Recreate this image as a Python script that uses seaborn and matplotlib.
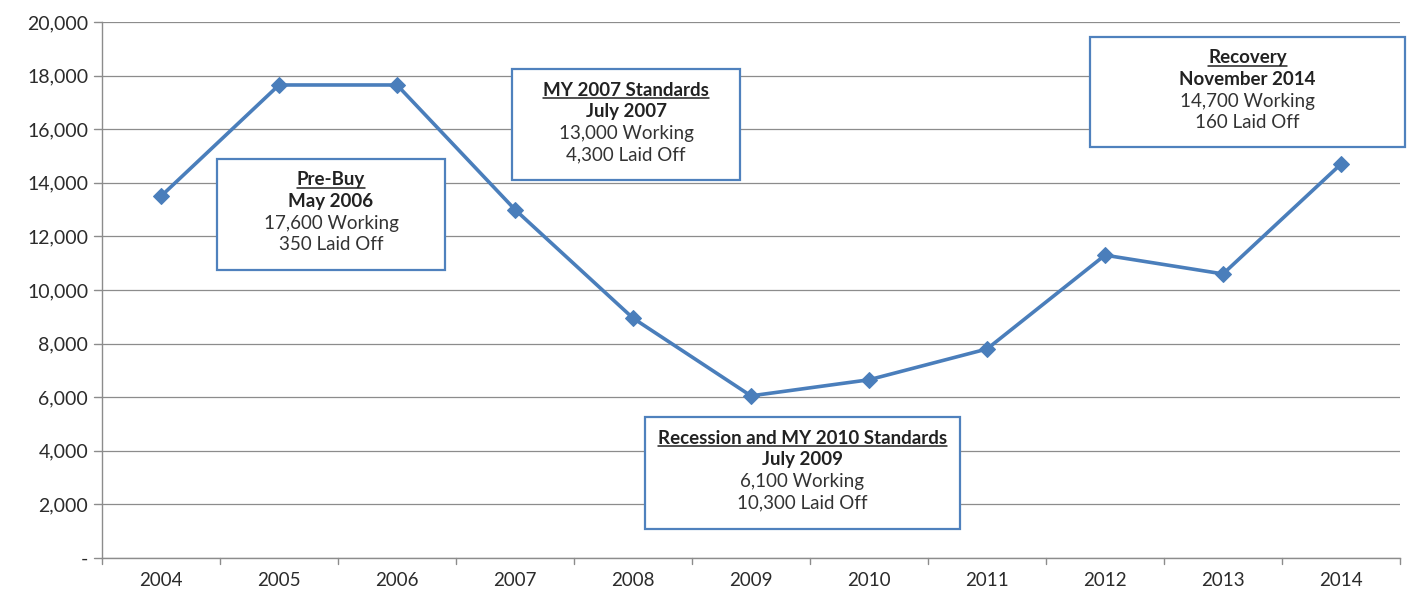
import matplotlib
matplotlib.use("Agg")
import matplotlib.pyplot as plt
import seaborn as sns
import pandas as pd
from matplotlib.patches import Rectangle
from matplotlib.lines import Line2D

years = ["2004", "2005", "2006", "2007", "2008", "2009", "2010", "2011", "2012", "2013", "2014"]
working = [13500, 17650, 17650, 13000, 8950, 6050, 6650, 7800, 11300, 10600, 14700]
yticks = [0, 2000, 4000, 6000, 8000, 10000, 12000, 14000, 16000, 18000, 20000]

box_titles = ["Pre-Buy", "MY 2007 Standards", "Recession and MY 2010 Standards", "Recovery"]
box_dates = ["May 2006", "July 2007", "July 2009", "November 2014"]
box_working = ["17,600 Working", "13,000 Working", "6,100 Working", "14,700 Working"]
box_laid = ["350 Laid Off", "4,300 Laid Off", "10,300 Laid Off", "160 Laid Off"]

sns.set_style("white")
plt.rcParams['font.family'] = ['Lato', 'DejaVu Sans']

W, H = 1412, 595
fig = plt.figure(figsize=(W / 100, H / 100), dpi=100)
ax = fig.add_axes([102 / W, (H - 558) / H, (1400 - 102) / W, (558 - 22) / H])

df = pd.DataFrame({"idx": range(len(years)), "working": working})
line_color = "#4A7EBB"
sns.lineplot(data=df, x="idx", y="working", ax=ax, color=line_color, linewidth=2.6,
             marker="D", markersize=8.5, markeredgecolor=line_color, zorder=3)

ax.set_xlim(-0.5, len(years) - 0.5)
ax.set_ylim(0, 20000)
ax.set_yticks(yticks)
ax.set_yticklabels(["-" if v == 0 else f"{v:,}" for v in yticks], fontsize=14, color="#2b2b2b")
ax.set_xticks(range(len(years)))
ax.set_xticklabels(years, fontsize=13.5, color="#2b2b2b")
ax.set_xlabel("")
ax.set_ylabel("")
ax.grid(axis="y", color="#8c8c8c", linewidth=0.9)
ax.set_axisbelow(True)
for s in ["top", "right"]:
    ax.spines[s].set_visible(False)
for s in ["left", "bottom"]:
    ax.spines[s].set_color("#8c8c8c")
    ax.spines[s].set_linewidth(1.0)
ax.tick_params(axis="x", length=0, pad=10)
ax.tick_params(axis="y", length=0, pad=10)
# category boundary ticks
for b in [i - 0.5 for i in range(len(years) + 1)]:
    ax.plot([b, b], [0, -0.012], transform=ax.get_xaxis_transform(), color="#8c8c8c",
            linewidth=1.0, clip_on=False)
# left axis tick marks
for v in yticks:
    ax.plot([-0.006, 0], [v, v], transform=ax.get_yaxis_transform(), color="#8c8c8c",
            linewidth=1.0, clip_on=False)

# annotation boxes (pixel layout)
boxes = [(217, 159, 445, 270), (512, 69, 740, 180), (645, 417, 960, 529), (1090, 37, 1405, 147)]
fig.canvas.draw()
renderer = fig.canvas.get_renderer()
fs = 13.5
for (x0, y0, x1, y1), t, d, wk, lo in zip(boxes, box_titles, box_dates, box_working, box_laid):
    rect = Rectangle((x0 / W, 1 - y1 / H), (x1 - x0) / W, (y1 - y0) / H, transform=fig.transFigure,
                     facecolor="white", edgecolor="#4F81BD", linewidth=1.6, zorder=5)
    fig.patches.append(rect)
    cx = (x0 + x1) / 2 / W
    top = y0 + 21
    lh = 21.5
    tt = fig.text(cx, 1 - top / H, t, ha="center", va="center", fontsize=fs, fontweight="bold",
                  color="#222222", zorder=6)
    fig.text(cx, 1 - (top + lh) / H, d, ha="center", va="center", fontsize=fs, fontweight="bold",
             color="#222222", zorder=6)
    fig.text(cx, 1 - (top + 2 * lh) / H, wk, ha="center", va="center", fontsize=fs,
             color="#333333", zorder=6)
    fig.text(cx, 1 - (top + 3 * lh) / H, lo, ha="center", va="center", fontsize=fs,
             color="#333333", zorder=6)
    bb = tt.get_window_extent(renderer)
    uy = bb.y0 + 1.0
    fig.lines.append(Line2D([bb.x0 / W, bb.x1 / W], [uy / H, uy / H], transform=fig.transFigure,
                            color="#222222", linewidth=1.1, zorder=6))

fig.savefig("out.png", dpi=100, facecolor="white")
